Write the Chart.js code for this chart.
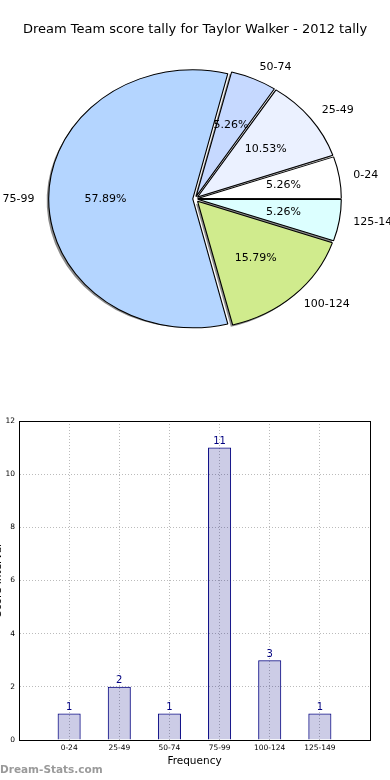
<!DOCTYPE html>
<html>
<head>
<meta charset="utf-8">
<script src="https://cdn.jsdelivr.net/npm/chart.js@4"></script>
<style>
  html, body { margin: 0; padding: 0; background: #fff; }
  #wrap { position: relative; width: 390px; height: 780px; overflow: hidden; }
  #pie { position: absolute; left: 0; top: 0; }
  #bar { position: absolute; left: 0; top: 400px; }
  #mark { position: absolute; left: 0; top: 763px; font: bold 10.5px "DejaVu Sans"; color: #9a9a9a; }
</style>
</head>
<body>
<div id="wrap">
  <canvas id="pie" width="390" height="400"></canvas>
  <canvas id="bar" width="390" height="380"></canvas>
  <div id="mark">Dream-Stats.com</div>
</div>
<script>
const title = 'Dream Team score tally for Taylor Walker - 2012 tally';
const categories = ['0-24', '25-49', '50-74', '75-99', '100-124', '125-149'];
const counts = [1, 2, 1, 11, 3, 1];
const yTicks = [0, 2, 4, 6, 8, 10, 12];
const xTitle = 'Frequency';
const yTitle = 'Score Interval';

const sliceColors = {
  '0-24': '#ffffff',
  '25-49': '#ebf1ff',
  '50-74': '#c6d9ff',
  '75-99': '#b4d5ff',
  '100-124': '#d0eb8d',
  '125-149': '#dcffff'
};

const FONT = 'DejaVu Sans';
const SX = 1.117;     // pie is stretched sideways like the original axes
const EXPLODE = 4;

// chart.js draws clockwise from 3 o'clock with rotation 90, so reverse the order
const pieLabels = categories.slice().reverse();
const pieValues = counts.slice().reverse();
const total = counts.reduce((a, b) => a + b, 0);

// chart.js arc offset is scaled by slice size, undo that so every slice moves EXPLODE px
function arcOffset(ctx) {
  const circ = pieValues[ctx.dataIndex] / total * Math.PI * 2;
  const fix = 1 - Math.sin(Math.min(Math.PI, circ));
  return EXPLODE * 4 / (1 + fix);
}

function shift(arc) {
  const mid = (arc.startAngle + arc.endAngle) / 2;
  return { mid: mid, dx: Math.cos(mid) * EXPLODE, dy: Math.sin(mid) * EXPLODE };
}

const ellipse = {
  id: 'ellipse',
  beforeDatasetsDraw(chart) {
    const ctx = chart.ctx;
    const arcs = chart.getDatasetMeta(0).data;
    const cx = arcs[0].x, cy = arcs[0].y;
    ctx.save();
    ctx.translate(cx, cy);
    ctx.scale(SX, 1);
    ctx.translate(-cx, -cy);
    // shadows under all wedges
    ctx.fillStyle = 'rgba(0,0,0,0.45)';
    arcs.forEach(a => {
      const s = shift(a);
      const x = a.x + s.dx - 2 / SX, y = a.y + s.dy + 2;
      ctx.beginPath();
      ctx.moveTo(x, y);
      ctx.arc(x, y, a.outerRadius, a.startAngle, a.endAngle);
      ctx.closePath();
      ctx.fill();
    });
  },
  afterDatasetsDraw(chart) {
    const ctx = chart.ctx;
    ctx.restore();
    const arcs = chart.getDatasetMeta(0).data;
    ctx.save();
    ctx.fillStyle = '#000';
    ctx.font = '11px "' + FONT + '"';
    ctx.textBaseline = 'middle';
    arcs.forEach((a, i) => {
      const s = shift(a);
      const r = a.outerRadius;
      const c = Math.cos(s.mid), sn = Math.sin(s.mid);
      // outer label
      ctx.textAlign = c > 0 ? 'left' : 'right';
      ctx.fillText(pieLabels[i], a.x + SX * (s.dx + r * 1.1 * c), a.y + s.dy + r * 1.1 * sn);
      // percentage
      ctx.textAlign = 'center';
      const pct = (pieValues[i] / total * 100).toFixed(2) + '%';
      ctx.fillText(pct, a.x + SX * (s.dx + r * 0.6 * c), a.y + s.dy + r * 0.6 * sn);
    });
    ctx.restore();
  }
};

new Chart(document.getElementById('pie'), {
  type: 'pie',
  data: {
    labels: pieLabels,
    datasets: [{
      data: pieValues,
      backgroundColor: pieLabels.map(l => sliceColors[l]),
      borderColor: '#000',
      borderWidth: 1,
      offset: arcOffset,
      clip: false
    }]
  },
  options: {
    responsive: false,
    animation: false,
    rotation: 90,
    radius: 127,
    layout: { padding: { left: 2, right: 2, top: 0, bottom: 60 } },
    plugins: {
      legend: { display: false },
      tooltip: { enabled: false },
      title: {
        display: true,
        text: title,
        color: '#000',
        font: { family: FONT, size: 13, weight: 'normal' },
        padding: { top: 22, bottom: 20 }
      }
    }
  },
  plugins: [ellipse]
});

const barExtras = {
  id: 'barExtras',
  afterDatasetsDraw(chart) {
    const ctx = chart.ctx;
    const bars = chart.getDatasetMeta(0).data;
    ctx.save();
    ctx.fillStyle = '#000080';
    ctx.font = '10px "' + FONT + '"';
    ctx.textAlign = 'center';
    ctx.textBaseline = 'bottom';
    bars.forEach((b, i) => ctx.fillText(String(counts[i]), b.x, b.y - 1));
    ctx.restore();
  },
  afterDraw(chart) {
    const ctx = chart.ctx;
    const a = chart.chartArea;
    ctx.save();
    ctx.strokeStyle = '#000';
    ctx.lineWidth = 1;
    ctx.strokeRect(Math.round(a.left) + 0.5, Math.round(a.top) + 0.5,
      Math.round(a.right - a.left), Math.round(a.bottom - a.top));
    ctx.fillStyle = '#000';
    ctx.font = '10.5px "' + FONT + '"';
    ctx.translate(1, (a.top + a.bottom) / 2);
    ctx.rotate(-Math.PI / 2);
    ctx.textAlign = 'center';
    ctx.textBaseline = 'alphabetic';
    ctx.fillText(yTitle, 0, 0);
    ctx.restore();
  }
};

new Chart(document.getElementById('bar'), {
  type: 'bar',
  data: {
    datasets: [{
      data: counts.map((v, i) => ({ x: i, y: v })),
      backgroundColor: 'rgba(0,0,128,0.2)',
      borderColor: '#000080',
      borderWidth: 1,
      barPercentage: 0.46,
      categoryPercentage: 1
    }]
  },
  options: {
    responsive: false,
    animation: false,
    layout: { padding: { left: 0, right: 20, top: 21, bottom: 0 } },
    plugins: { legend: { display: false }, tooltip: { enabled: false } },
    scales: {
      x: {
        type: 'linear',
        min: -1,
        max: 6,
        offset: false,
        afterBuildTicks: s => { s.ticks = categories.map((c, i) => ({ value: i })); },
        afterFit: s => { s.height = 40; },
        grid: { color: '#bbbbbb', drawTicks: false, offset: false },
        border: { color: '#000', dash: [1, 2] },
        ticks: {
          callback: v => categories[v],
          font: { family: FONT, size: 7.5 },
          color: '#000',
          padding: 4,
          maxRotation: 0,
          autoSkip: false
        },
        title: {
          display: true,
          text: xTitle,
          color: '#000',
          font: { family: FONT, size: 10.5 },
          padding: { top: 0, bottom: 12 }
        }
      },
      y: {
        min: 0,
        max: 12,
        afterBuildTicks: s => { s.ticks = yTicks.map(v => ({ value: v })); },
        afterFit: s => { s.width = 19; },
        grid: { color: '#bbbbbb', drawTicks: false },
        border: { color: '#000', dash: [1, 2] },
        ticks: {
          font: { family: FONT, size: 7.5 },
          color: '#000',
          padding: 4
        }
      }
    }
  },
  plugins: [barExtras]
});
</script>
</body>
</html>
